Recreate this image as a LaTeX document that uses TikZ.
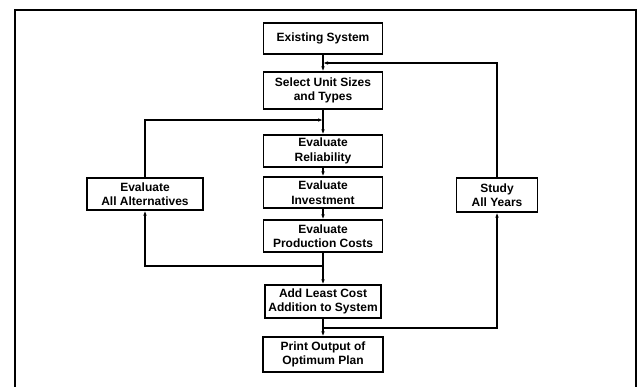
\documentclass[tikz,border=0pt]{standalone}
\usepackage{fontspec}
\setmainfont{Liberation Sans}
\usetikzlibrary{arrows.meta}
\begin{document}
\begin{tikzpicture}[x=1pt,y=-1pt,
  box/.style={draw,line width=1.2pt,rectangle,inner sep=0pt,align=center,
    font=\fontsize{12}{14.5}\selectfont\bfseries},
  conn/.style={line width=1.1pt},
  arr/.style={conn,-{Latex[length=5pt,width=3.6pt]}}]
\useasboundingbox (0,0) rectangle (644,387);
\fill[white] (0,0) rectangle (644,387);
% frame
\draw[line width=1.3pt] (15,387) -- (15,10) -- (636,10) -- (636,387);
% boxes
\node[box,minimum width=119pt,minimum height=31pt] (exist) at (323,38.5) {Existing System};
\node[box,minimum width=119pt,minimum height=37pt] (select) at (323,90.5) {Select Unit Sizes\\and Types};
\node[box,minimum width=119pt,minimum height=32pt] (rel) at (323,151) {Evaluate\\Reliability};
\node[box,minimum width=119pt,minimum height=31pt] (inv) at (323,192.5) {Evaluate\\Investment};
\node[box,minimum width=119pt,minimum height=32pt] (prod) at (323,236) {Evaluate\\Production Costs};
\node[box,minimum width=116pt,minimum height=33pt] (add) at (323,301.5) {Add Least Cost\\Addition to System};
\node[box,minimum width=120pt,minimum height=35pt] (print) at (323,354.5) {Print Output of\\Optimum Plan};
\node[box,minimum width=116pt,minimum height=32pt] (alt) at (145,194) {Evaluate\\All Alternatives};
\node[box,minimum width=81pt,minimum height=34pt] (study) at (497,195) {Study\\All Years};
% junctions
\coordinate (jtop) at (323,63);
\coordinate (jleft) at (323,120);
\coordinate (jbot) at (323,266);
\coordinate (jright) at (323,328);
% main flow
\draw[arr] (exist) -- (select);
\draw[arr] (select) -- (rel);
\draw[arr] (rel) -- (inv);
\draw[arr] (inv) -- (prod);
\draw[arr] (prod) -- (add);
\draw[arr] (add) -- (print);
% left loop
\draw[arr] (jbot) -| (alt.south);
\draw[arr] (alt.north) |- (jleft);
% right loop
\draw[arr] (jright) -| (study.south);
\draw[arr] (study.north) |- (jtop);
\end{tikzpicture}
\end{document}
